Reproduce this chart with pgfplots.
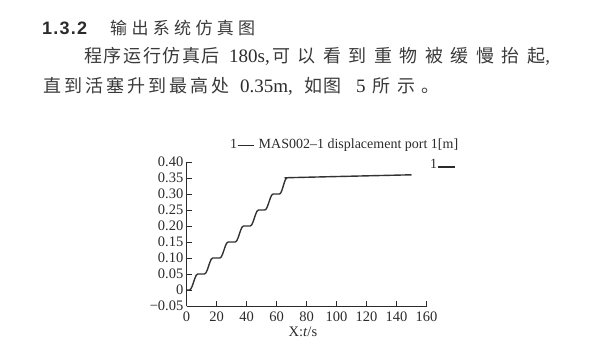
\documentclass[border=0pt]{standalone}
\usepackage{pgfplots}
\pgfplotsset{compat=1.18}
\usepackage{fontspec}
\setmainfont{Liberation Serif}
\newfontfamily\cjk{Noto Sans CJK SC}
\newfontfamily\cjkA{Noto Sans CJK SC}[LetterSpace=9]
\newfontfamily\cjkB{Noto Sans CJK SC}[LetterSpace=17]
\newfontfamily\cjkC{Noto Sans CJK SC}[LetterSpace=5]
\newfontfamily\cjkD{Noto Sans CJK SC}[LetterSpace=38]
\newfontfamily\hdsans{Liberation Sans}
\definecolor{txt}{HTML}{2B2B2B}
\definecolor{ctxt}{HTML}{3A3A3A}
\definecolor{crv}{HTML}{333333}
\begin{document}
\begin{tikzpicture}
\path[use as bounding box] (0,0) rectangle (591bp,360bp);
% heading
\node[anchor=base west, inner sep=0, text=txt] at (42bp,325.5bp)
  {\hdsans\bfseries\fontsize{18bp}{20bp}\selectfont\makebox[45bp][s]{1\hfil.\hfil3\hfil.\hfil2}};
\node[anchor=base west, inner sep=0, text=ctxt] at (110bp,325.5bp)
  {\fontsize{17bp}{20bp}\selectfont\makebox[145bp][s]{\cjk 输 出 系 统 仿 真 图}};
% line 2
\node[anchor=base west, inner sep=0, text=ctxt] at (84bp,297.5bp)
  {\fontsize{18bp}{20bp}\selectfont\cjkA 程序运行仿真后};
\node[anchor=base west, inner sep=0, text=txt] at (229bp,297.5bp)
  {\fontsize{19bp}{20bp}\selectfont 180s,};
\node[anchor=base west, inner sep=0, text=ctxt] at (272bp,297.5bp)
  {\fontsize{18bp}{20bp}\selectfont\makebox[278bp][s]{\cjk 可 以 看 到 重 物 被 缓 慢 抬 起\rmfamily\fontsize{19bp}{20bp}\selectfont ,}};
% line 3
\node[anchor=base west, inner sep=0, text=ctxt] at (43bp,267.5bp)
  {\fontsize{18bp}{20bp}\selectfont\cjkB 直到活塞升到最高处};
\node[anchor=base west, inner sep=0, text=txt] at (240bp,267.5bp)
  {\fontsize{19bp}{20bp}\selectfont 0.35m,};
\node[anchor=base west, inner sep=0, text=ctxt] at (304bp,267.5bp)
  {\fontsize{18bp}{20bp}\selectfont\cjkC 如图};
\node[anchor=base west, inner sep=0, text=txt] at (356bp,267.5bp)
  {\fontsize{19bp}{20bp}\selectfont 5};
\node[anchor=base west, inner sep=0, text=ctxt] at (372bp,267.5bp)
  {\fontsize{18bp}{20bp}\selectfont\cjkD 所示。};
\begin{axis}[
  at={(186.5bp,54bp)}, anchor=south west,
  scale only axis, width=240bp, height=144bp,
  xmin=0, xmax=160, ymin=-0.05, ymax=0.40,
  axis lines=left,
  axis line style={-, line width=0.8bp, color=txt},
  tick align=inside, major tick length=5bp,
  tick style={line width=0.8bp, color=txt},
  xtick={0,20,40,60,80,100,120,140,160},
  xticklabels={0,20,40,60,80,100,120,140,160},
  ytick={-0.05,0,0.05,0.1,0.15,0.2,0.25,0.3,0.35,0.4},
  yticklabels={−0.05,0,0.05,0.10,0.15,0.20,0.25,0.30,0.35,0.40},
  ticklabel style={font=\fontsize{14.5bp}{14.5bp}\selectfont, text=txt},
  xticklabel style={inner ysep=5.5bp},
  yticklabel style={inner xsep=3bp},
  xlabel={X:\textit{t}/s},
  xlabel style={at={(axis description cs:0.485,0)}, anchor=center, yshift=-26bp,
    font=\fontsize{14.5bp}{14.5bp}\selectfont, text=txt},
  clip=false,
]
\addplot[color=crv, line width=1.4bp, line join=round, smooth, tension=0.35] coordinates {
(0,0) (2,0)
(2.92,0.0034) (3.83,0.0125) (4.75,0.025) (5.67,0.0375) (6.58,0.0467) (7.5,0.05)
(12,0.05) (12.92,0.0534) (13.83,0.0625) (14.75,0.075) (15.67,0.0875) (16.58,0.0967) (17.5,0.10)
(22.25,0.10) (23.17,0.1034) (24.08,0.1125) (25,0.125) (25.92,0.1375) (26.83,0.1467) (27.75,0.15)
(32.5,0.15) (33.42,0.1534) (34.33,0.1625) (35.25,0.175) (36.17,0.1875) (37.08,0.1967) (38,0.20)
(42.5,0.20) (43.42,0.2034) (44.33,0.2125) (45.25,0.225) (46.17,0.2375) (47.08,0.2467) (48,0.25)
(52.25,0.25) (53.17,0.2534) (54.08,0.2625) (55,0.275) (55.92,0.2875) (56.83,0.2967) (57.75,0.30)
(62,0.30) (62.83,0.3034) (63.67,0.3125) (64.5,0.325) (65.33,0.3375) (66.17,0.3467) (67,0.35)
(70,0.3512) (150,0.360)
};
\end{axis}
% legend
\node[anchor=base west, inner sep=0, text=txt, font=\fontsize{14bp}{14bp}\selectfont] at (230bp,211.7bp)
  {1\hspace{0.5bp}{\color{txt}\rule[2.6bp]{16bp}{1bp}}\hspace{5bp}MAS002–1 displacement port 1[m]};
\node[anchor=base west, inner sep=0, text=txt, font=\fontsize{14bp}{14bp}\selectfont] at (430bp,191.7bp)
  {1\hspace{0.5bp}{\color{txt}\rule[0bp]{17bp}{2bp}}};
\end{tikzpicture}
\end{document}
